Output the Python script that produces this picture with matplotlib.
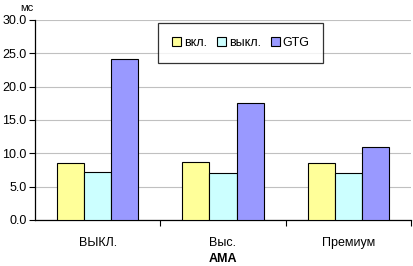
import numpy as np
import matplotlib
matplotlib.use('Agg')
import matplotlib.pyplot as plt

categories = ['ВЫКЛ.', 'Выс.', 'Премиум']
series_names = ['вкл.', 'выкл.', 'GTG']
vkl = [8.5, 8.65, 8.5]
vykl = [7.15, 7.0, 7.0]
gtg = [24.1, 17.5, 10.9]
yticks = [0, 5, 10, 15, 20, 25, 30]

plt.rcParams['font.family'] = ['Liberation Sans', 'DejaVu Sans']

fig = plt.figure(figsize=(4.13, 2.66), dpi=100)
ax = fig.add_axes([35 / 413, 1 - 220 / 266, 376 / 413, 200 / 266])

colors = ['#FFFF99', '#CCFFFF', '#9999FF']
x = np.arange(len(categories))
w = 0.216
for i, (vals, name) in enumerate(zip([vkl, vykl, gtg], series_names)):
    ax.bar(x + (i - 1) * w, vals, w, color=colors[i], edgecolor='black',
           linewidth=0.8, label=name, zorder=3)

ax.set_xlim(-0.5, 2.5)
ax.set_ylim(0, 30)
ax.set_yticks(yticks)
ax.set_yticklabels([f'{v:.1f}' for v in yticks], fontsize=9)
ax.yaxis.grid(True, color='#c0c0c0', linewidth=0.8, zorder=0)

# category ticks sit on the boundaries, labels in the middle
ax.set_xticks([0.5, 1.5, 2.5])
ax.set_xticklabels([])
ax.set_xticks(x, minor=True)
ax.set_xticklabels(categories, minor=True, fontsize=9)
ax.tick_params(axis='x', which='minor', length=0, pad=12)
ax.tick_params(axis='x', which='major', length=4, direction='out')
ax.tick_params(axis='y', length=4, direction='out', pad=2)

for s in ['top', 'right']:
    ax.spines[s].set_visible(False)
ax.spines['left'].set_linewidth(0.9)
ax.spines['bottom'].set_linewidth(0.9)

ax.set_xlabel('AMA', fontsize=9, fontweight='bold', labelpad=3)
fig.text(27 / 413, 1 - 8 / 266, 'мс', fontsize=8, ha='center', va='center')

leg = ax.legend(loc='upper left', bbox_to_anchor=(117 / 376, 1 + 3 / 200),
                ncol=3, fontsize=9, frameon=True, fancybox=False,
                edgecolor='black', handlelength=0.7, handleheight=0.7,
                handletextpad=0.25, columnspacing=0.8, borderpad=1.1)
leg.get_frame().set_linewidth(0.9)
leg.set_zorder(5)

fig.savefig('out.png', dpi=100)
